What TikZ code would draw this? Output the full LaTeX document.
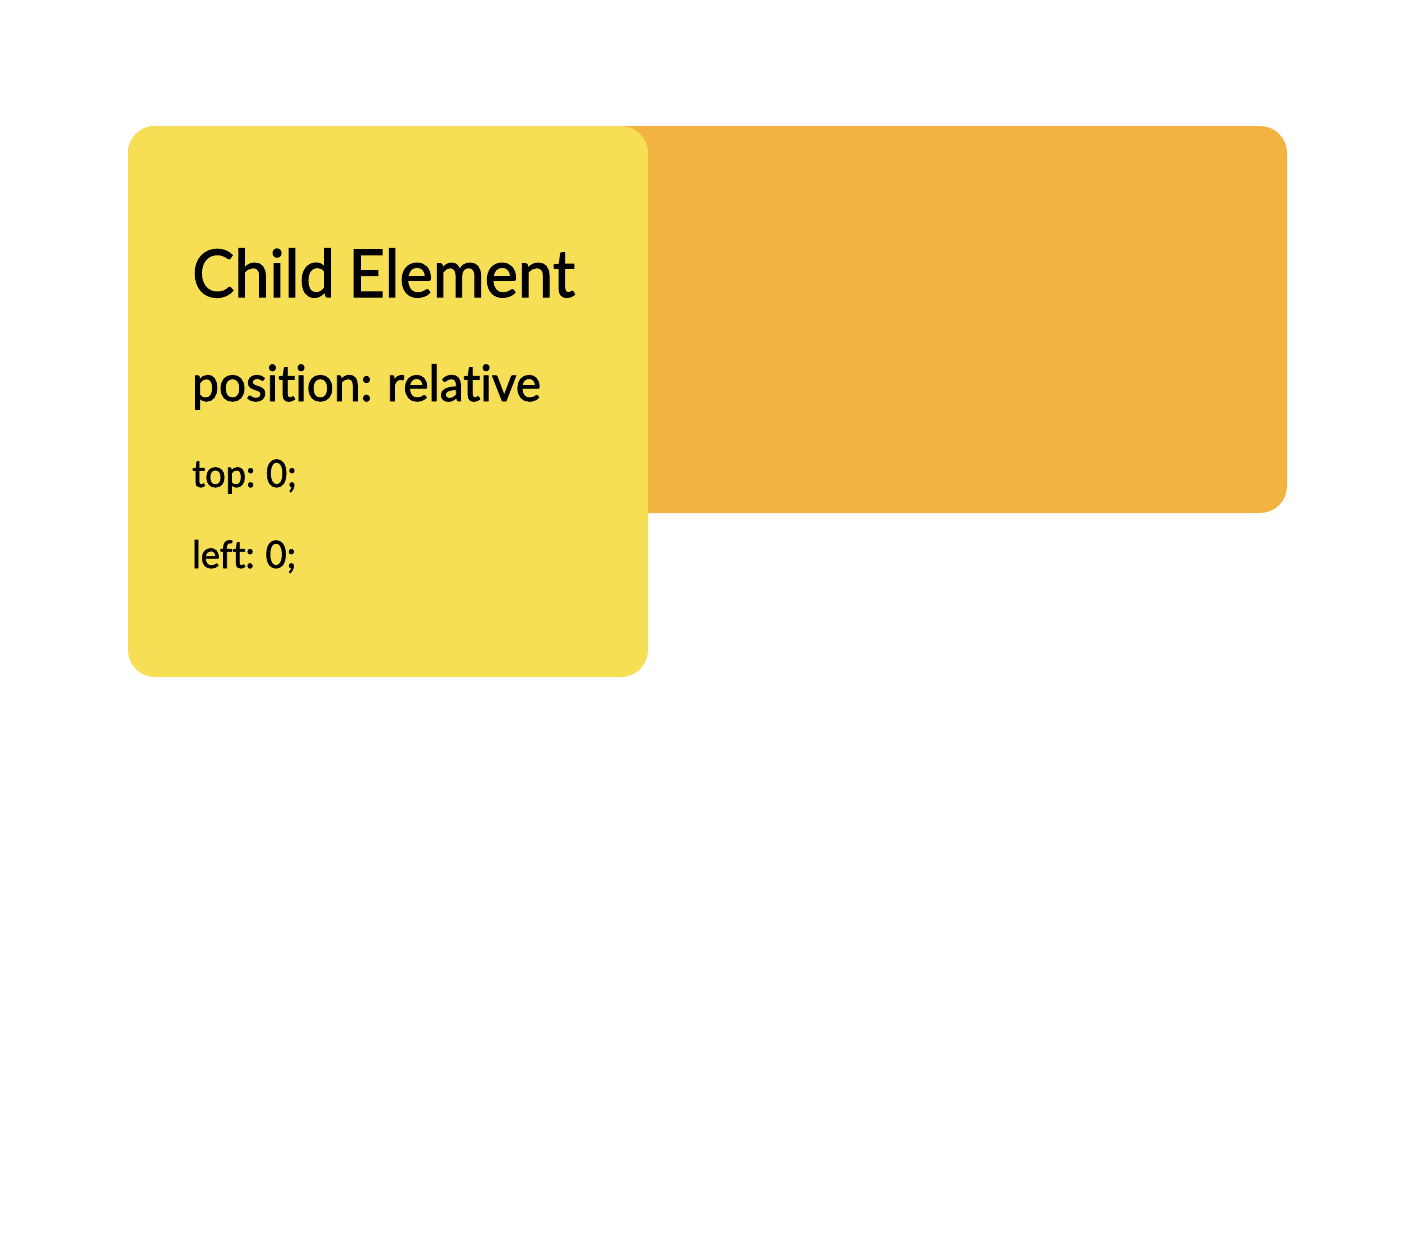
\documentclass[tikz,border=0pt]{standalone}
\usepackage{fontspec}
\setmainfont{Lato}[FakeStretch=0.955,FakeBold=1.5,WordSpace=0.85,Ligatures=NoCommon]
\usepackage{xcolor}
\usepackage{tikz}
\definecolor{ParentOrange}{HTML}{F3B340}
\definecolor{ChildYellow}{HTML}{F6DE55}

\begin{document}
\begin{tikzpicture}[x=1pt,y=-1pt,
  box/.style={rounded corners=27pt,inner sep=0pt,outer sep=0pt,anchor=north west},
  label/.style={anchor=base west,inner sep=0pt,text=black}]
  \useasboundingbox[fill=white] (0,0) rectangle (1402,1240);
  \node[box,fill=ParentOrange,minimum width=1159pt,minimum height=387pt] (parent) at (128,126) {};
  \node[box,fill=ChildYellow,minimum width=520pt,minimum height=551pt] (child) at (128,126) {};
  \node[label,font=\fontsize{66}{70}\selectfont] (title) at (192,297) {Child Element};
  \node[label,font=\fontsize{50}{54}\selectfont] (pos) at (192,401) {position: relative};
  \node[label,font=\fontsize{38}{42}\selectfont] (top) at (192,487) {top: 0;};
  \node[label,font=\fontsize{38}{42}\selectfont] (left) at (192,568) {left: 0;};
\end{tikzpicture}
\end{document}
